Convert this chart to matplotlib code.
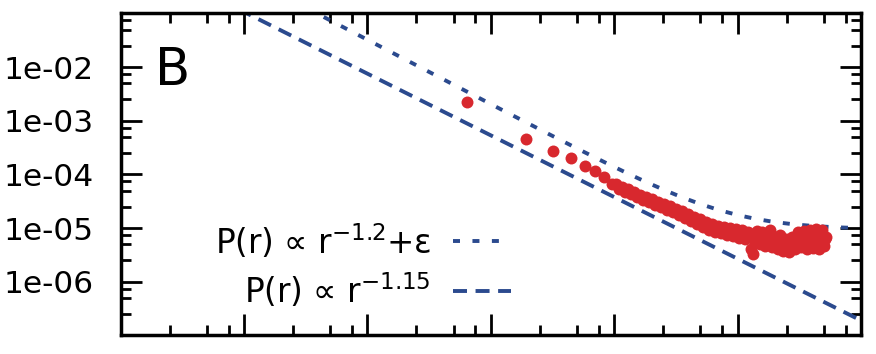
import numpy as np
import matplotlib.pyplot as plt
from matplotlib.ticker import LogLocator, NullFormatter

plt.rcParams['font.family'] = ['DejaVu Sans']
plt.rcParams['mathtext.default'] = 'regular'

# ----------------------------------
# data (panel B)
# ----------------------------------
# isolated points at small r
r_sparse = [64, 192, 320, 448, 576, 704, 832, 960]
p_sparse = [2.22e-3, 4.55e-4, 2.72e-4, 2.02e-4, 1.43e-4, 1.16e-4, 8.95e-5, 6.63e-5]

# dense band at large r
r_band = [1040, 1100, 1160, 1230, 1300, 1370, 1450, 1540, 1620, 1720,
          1820, 1920, 2030, 2150, 2270, 2400, 2540, 2690, 2840, 3000,
          3180, 3360, 3550, 3760, 3970, 4200, 4440, 4700, 4970, 5250,
          5560, 5880, 5990, 6220, 6570, 6950, 7350, 7490, 7770, 8220,
          8700, 9200, 9370, 9720, 10300, 10900, 11500, 12200, 12600, 12900,
          13400, 13900, 14400, 14700, 15200, 15800, 16100, 16700, 17300, 18300,
          19000, 19400, 20100, 21300, 22100, 22500, 23400, 24700, 26100, 26600,
          27600, 29200, 29800, 30900, 32700, 33300, 34600, 36500, 37200, 38600,
          40900, 41600, 43200, 45700, 46600, 48300, 50200, 51100, 52100]
p_band = [6.63e-5, 5.35e-5, 5.83e-5, 4.71e-5, 5.35e-5, 4.32e-5, 4.71e-5, 3.80e-5, 4.14e-5, 3.34e-5,
          3.80e-5, 3.07e-5, 3.49e-5, 2.70e-5, 3.07e-5, 2.48e-5, 2.82e-5, 2.18e-5, 2.59e-5, 2.00e-5,
          2.27e-5, 1.76e-5, 2.09e-5, 1.55e-5, 1.84e-5, 1.36e-5, 1.62e-5, 1.20e-5, 1.48e-5, 1.05e-5,
          1.30e-5, 9.26e-6, 1.01e-5, 1.20e-5, 8.50e-6, 1.10e-5, 8.14e-6, 9.26e-6, 1.05e-5, 7.47e-6,
          1.01e-5, 7.16e-6, 8.50e-6, 9.66e-6, 6.57e-6, 9.26e-6, 6.30e-6, 8.50e-6, 7.47e-6, 4.11e-6,
          3.31e-6, 5.54e-6, 8.87e-6, 6.30e-6, 5.09e-6, 8.50e-6, 6.03e-6, 4.67e-6, 7.47e-6, 9.26e-6,
          4.47e-6, 6.30e-6, 6.86e-6, 4.11e-6, 7.47e-6, 5.54e-6, 3.77e-6, 6.30e-6, 3.61e-6, 5.09e-6,
          6.86e-6, 4.11e-6, 6.03e-6, 8.50e-6, 4.47e-6, 6.30e-6, 8.87e-6, 4.11e-6, 6.03e-6, 9.26e-6,
          4.29e-6, 6.30e-6, 9.66e-6, 4.11e-6, 6.03e-6, 9.26e-6, 4.67e-6, 6.30e-6, 6.86e-6]

# guide lines
dashed_amp, dashed_exp = 0.107, -1.15
dotted_amp, dotted_exp, eps = 0.513, -1.2, 9.5e-6

y_ticks = [1e-6, 1e-5, 1e-4, 1e-3, 1e-2]
y_labels = ['1e-06', '1e-05', '1e-04', '1e-03', '1e-02']
x_ticks = [1, 10, 100, 1e3, 1e4]

red = '#d8282e'
blue = '#2b4a8e'

# ----------------------------------
# plot
# ----------------------------------
fig = plt.figure(figsize=(8.76, 3.54), dpi=100)
ax = fig.add_axes([0.1376, 0.0523, 0.8453, 0.9096])

r = np.logspace(-1, 5, 400)
ax.plot(r, dashed_amp * r ** dashed_exp, color=blue, lw=2.8, dashes=(3.6, 2.2))
ax.plot(r, dotted_amp * r ** dotted_exp + eps, color=blue, lw=2.8, dashes=(1.8, 3.2))

ax.plot(r_sparse + r_band, p_sparse + p_band, 'o', color=red, ms=8.6, mew=0)

ax.set_xscale('log')
ax.set_yscale('log')
ax.set_xlim(0.1, 1e5)
ax.set_ylim(1e-7, 1e-1)

ax.set_yticks(y_ticks)
ax.set_yticklabels(y_labels)
ax.set_xticks(x_ticks)
ax.xaxis.set_minor_locator(LogLocator(base=10, subs=(2.5, 5.0, 7.5), numticks=20))
ax.yaxis.set_minor_locator(LogLocator(base=10, subs=(2.5, 5.0, 7.5), numticks=20))
ax.xaxis.set_minor_formatter(NullFormatter())
ax.yaxis.set_minor_formatter(NullFormatter())

ax.tick_params(which='both', direction='in', top=True, right=True, width=2,
               labelbottom=False, labelsize=22.5, pad=19)
ax.tick_params(which='major', length=15)
ax.tick_params(which='minor', length=7.5)
for s in ax.spines.values():
    s.set_linewidth(2.5)

ax.text(0.047, 0.778, 'B', transform=ax.transAxes, fontsize=37, va='baseline')

# legend (text right aligned, sample on the right)
ax.text(0.419, 0.252, 'P(r) ∝ r$^{-1.2}$+ε', transform=ax.transAxes,
        fontsize=23.5, ha='right', va='baseline')
ax.text(0.419, 0.102, 'P(r) ∝ r$^{-1.15}$', transform=ax.transAxes,
        fontsize=23.5, ha='right', va='baseline')
ax.plot([0.449, 0.527], [0.292, 0.292], transform=ax.transAxes, color=blue,
        lw=2.8, dashes=(1.8, 3.2))
ax.plot([0.449, 0.527], [0.137, 0.137], transform=ax.transAxes, color=blue,
        lw=2.8, dashes=(3.6, 2.2))

fig.savefig('out.png', dpi=100)
